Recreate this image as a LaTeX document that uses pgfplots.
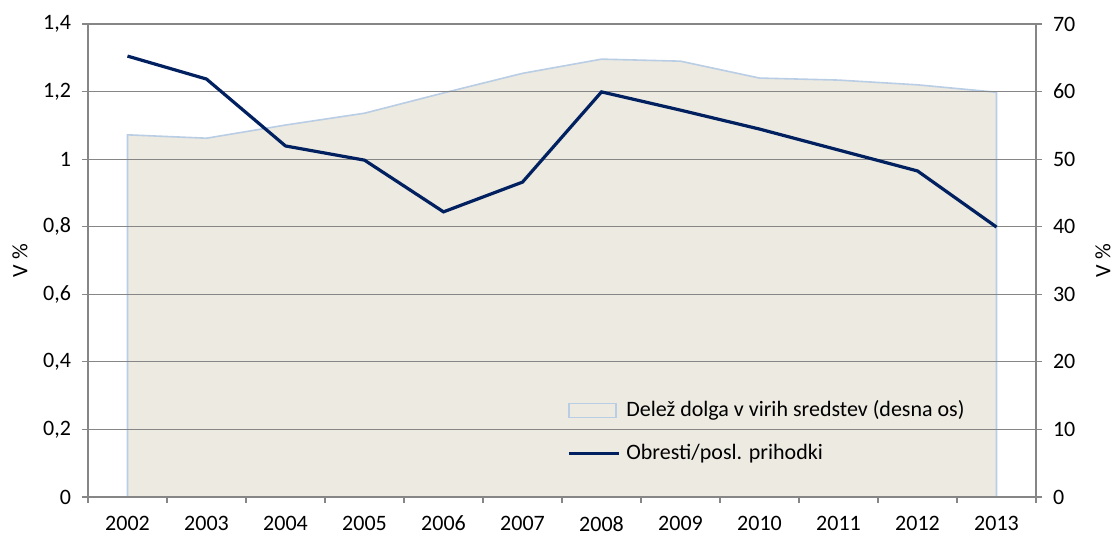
\documentclass[border=0pt]{standalone}
\usepackage{pgfplots}
\pgfplotsset{compat=1.18}
\usepackage{fontspec}
\setmainfont{Carlito}
\definecolor{areafill}{RGB}{237,234,225}
\definecolor{areaedge}{RGB}{185,205,229}
\definecolor{navy}{RGB}{0,32,96}
\definecolor{gridgray}{RGB}{134,134,134}
\begin{document}
\begin{tikzpicture}[font=\fontsize{11}{13}\selectfont]
\begin{axis}[
  at={(44pt,18.5pt)}, anchor=south west,
  scale only axis, width=474pt, height=236.5pt,
  xmin=-0.5, xmax=11.5, ymin=0, ymax=70,
  axis on top,
  axis x line*=bottom, axis y line*=right,
  axis line style={gridgray, line width=0.6pt, -},
  xtick={0,1,2,3,4,5,6,7,8,9,10,11},
  xticklabels={2002,2003,2004,2005,2006,2007,2008,2009,2010,2011,2012,2013},
  minor xtick={-0.5,0.5,1.5,2.5,3.5,4.5,5.5,6.5,7.5,8.5,9.5,10.5,11.5},
  major x tick style={draw=none},
  minor x tick style={gridgray, line width=0.6pt},
  ytick={0,10,20,30,40,50,60,70},
  yticklabels={0,10,20,30,40,50,60,70},
  ymajorgrids, grid style={gridgray, line width=0.6pt},
  tick align=outside, major tick length=3pt, minor tick length=3pt,
  tick style={gridgray, line width=0.6pt},
  xticklabel style={yshift=-3pt},
  yticklabel style={xshift=2pt},
  ylabel={V \%}, ylabel style={at={(axis description cs:1.0707,0.5)}, anchor=center},
]
\addplot[fill=areafill, draw=areaedge, line width=0.8pt] coordinates {
(0,53.6) (1,53.1) (2,55.05) (3,56.8) (4,59.8) (5,62.7) (6,64.8) (7,64.5) (8,62.0) (9,61.7) (10,61.0) (11,59.9)} \closedcycle;
\end{axis}
\begin{axis}[
  at={(44pt,18.5pt)}, anchor=south west,
  scale only axis, width=474pt, height=236.5pt,
  xmin=-0.5, xmax=11.5, ymin=0, ymax=1.4,
  hide x axis,
  axis y line*=left,
  axis line style={gridgray, line width=0.6pt, -},
  ytick={0,0.2,0.4,0.6,0.8,1,1.2,1.4},
  yticklabels={0,{0,2},{0,4},{0,6},{0,8},1,{1,2},{1,4}},
  tick align=outside, major tick length=3pt,
  tick style={gridgray, line width=0.6pt},
  yticklabel style={xshift=-2pt},
  ylabel={V \%}, ylabel style={at={(axis description cs:-0.0717,0.5)}, anchor=center},
  legend style={at={(axis description cs:0.505,0.07)}, anchor=south west, draw=none, fill=none, inner sep=0pt, row sep=11.5pt, column sep=3pt, nodes={inner sep=0pt, text height=8pt, text depth=2pt, anchor=west}},
  legend cell align=left,
]
\addlegendimage{legend image code/.code={\draw[fill=areafill, draw=areaedge, line width=0.8pt] (0pt,-3.5pt) rectangle (23.5pt,3.5pt);}}
\addlegendentry{Delež dolga v virih sredstev (desna os)}
\addplot[navy, line width=1.6pt, legend image code/.code={\draw[navy, line width=1.6pt] (0pt,0pt) -- (25pt,0pt);}] coordinates {
(0,1.305) (1,1.237) (2,1.039) (3,0.997) (4,0.844) (5,0.932) (6,1.199) (7,1.145) (8,1.089) (9,1.027) (10,0.965) (11,0.799)};
\addlegendentry{Obresti/posl. prihodki}
\end{axis}
\pgfresetboundingbox
\useasboundingbox (0,0) rectangle (556.5pt,267pt);
\end{tikzpicture}
\end{document}
